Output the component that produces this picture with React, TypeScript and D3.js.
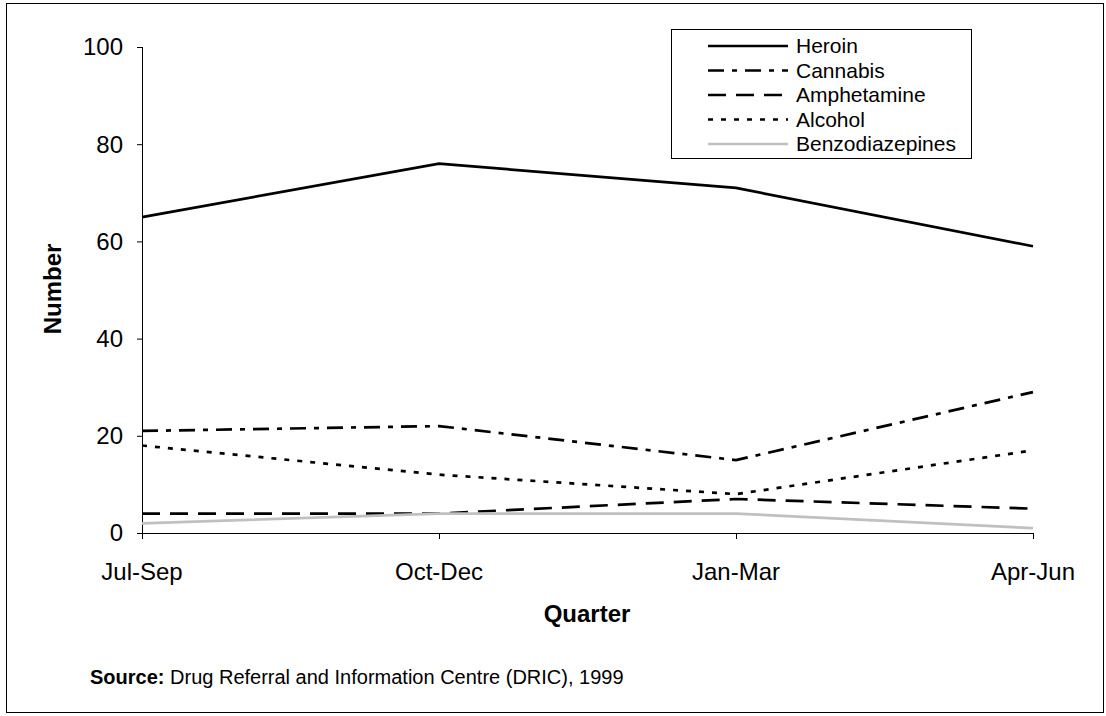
import React from "react";
import * as d3 from "d3";

const quarters = ["Jul-Sep", "Oct-Dec", "Jan-Mar", "Apr-Jun"];
const heroin = [65, 76, 71, 59];
const cannabis = [21, 22, 15, 29];
const amphetamine = [4, 4, 7, 5];
const alcohol = [18, 12, 8, 17];
const benzodiazepines = [2, 4, 4, 1];
const yTicks = [0, 20, 40, 60, 80, 100];

const series = [
  { name: "Heroin", values: heroin, color: "#000", dash: "" },
  { name: "Cannabis", values: cannabis, color: "#000", dash: "16 8 5 8" },
  { name: "Amphetamine", values: amphetamine, color: "#000", dash: "18 10" },
  { name: "Alcohol", values: alcohol, color: "#000", dash: "5 8" },
  { name: "Benzodiazepines", values: benzodiazepines, color: "#c0c0c0", dash: "" },
];

const W = 1106, H = 716;
const FONT = "Liberation Sans, Arial, sans-serif";

export default function App() {
  const x = d3.scalePoint<string>().domain(quarters).range([142, 1033]);
  const y = d3.scaleLinear().domain([0, 100]).range([533, 47]);
  const line = d3.line<number>().x((_, i) => x(quarters[i])!).y((d) => y(d));
  const legX = 671, legY = 29, legW = 300, legH = 129, rowH = 24.5, legFont = 21;
  return (
    <svg width={W} height={H} style={{ position: "absolute", left: 0, top: 0, background: "#fff" }} fontFamily={FONT}>
      <rect x={6.5} y={3.5} width={1097} height={709} fill="#fff" stroke="#000" strokeWidth={1} />
      {/* y axis */}
      <line x1={142.5} x2={142.5} y1={y(100)} y2={y(0)} stroke="#000" />
      {yTicks.map((t) => (
        <g key={t}>
          <line x1={137} x2={142.5} y1={y(t) + 0.5} y2={y(t) + 0.5} stroke="#000" />
          <text x={123} y={y(t)} dy="0.35em" textAnchor="end" fontSize={24}>{t}</text>
        </g>
      ))}
      {/* x axis */}
      <line x1={142} x2={1033.5} y1={533.5} y2={533.5} stroke="#000" />
      {quarters.map((q) => (
        <g key={q}>
          <line x1={x(q)! + 0.5} x2={x(q)! + 0.5} y1={533} y2={539} stroke="#000" />
          <text x={x(q)} y={572} dy="0.35em" textAnchor="middle" fontSize={24}>{q}</text>
        </g>
      ))}
      <text x={587} y={614} dy="0.35em" textAnchor="middle" fontSize={24} fontWeight="bold">Quarter</text>
      <text transform={`translate(53,289) rotate(-90)`} textAnchor="middle" dy="0.35em" fontSize={24} fontWeight="bold">Number</text>
      {series.map((s) => (
        <path key={s.name} d={line(s.values)!} fill="none" stroke={s.color} strokeWidth={2.7} strokeDasharray={s.dash} />
      ))}
      <rect x={legX + 0.5} y={legY + 0.5} width={legW} height={legH} fill="#fff" stroke="#000" />
      {series.map((s, i) => {
        const cy = legY + 17 + i * rowH;
        return (
          <g key={s.name}>
            <line x1={708} x2={788} y1={cy} y2={cy} stroke={s.color} strokeWidth={2.7} strokeDasharray={s.dash} />
            <text x={796} y={cy} dy="0.35em" fontSize={legFont}>{s.name}</text>
          </g>
        );
      })}
      <text x={90} y={677} dy="0.35em" fontSize={20}>
        <tspan fontWeight="bold">Source:</tspan> Drug Referral and Information Centre (DRIC), 1999
      </text>
    </svg>
  );
}
